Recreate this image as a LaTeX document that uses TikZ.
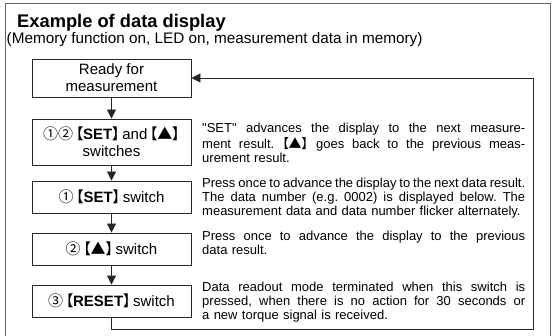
\documentclass[tikz,border=0pt]{standalone}
\usepackage{fontspec}
\setmainfont{Liberation Sans}
\newfontfamily\cjk[RawFeature=+palt]{Noto Sans CJK SC}
\usetikzlibrary{arrows.meta}
\newcommand{\lbr}{{\cjk 【}}
\newcommand{\rbr}{{\cjk 】}}
\newcommand{\tri}{{\cjk ▲}}
\newcommand{\cnum}[1]{{\cjk #1}}
\newlength{\descw}
\setlength{\descw}{323pt}
\newcommand{\jline}[1]{\hbox to\descw{\frenchspacing\spaceskip=3.6pt plus 30pt minus 1.6pt\strut#1}}
\newcommand{\lline}[1]{\hbox to\descw{\frenchspacing\strut#1\hfil}}
\tikzset{stepbox/.style={draw=black!85, line width=0.9pt, minimum width=159pt, inner sep=0pt, align=center, font=\fontsize{15}{17}\selectfont}}
\tikzset{desc/.style={anchor=north west, inner sep=0pt, text width=\descw, font=\fontsize{13}{14}\selectfont}}
\tikzset{flow/.style={draw=black!85, line width=0.9pt, -{Triangle[width=9pt,length=9pt]}}}

\begin{document}
\begin{tikzpicture}[x=1pt,y=-1pt]
\useasboundingbox (0,0) rectangle (553,336);
\clip (0,0) rectangle (553,336);
\draw[black!60, line width=1.6pt] (5.5,3.5) rectangle (550.5,350);
\node[anchor=base west, inner sep=0pt, font=\fontsize{18.3}{20}\selectfont\bfseries] (title) at (17,28) {Example of data display};
\node[anchor=base west, inner sep=0pt, font=\fontsize{15.3}{17}\selectfont] (sub) at (6.5,44) {(Memory function on, LED on, measurement data in memory)};

\node[stepbox, minimum height=38pt] (ready) at (111.5,78) {Ready for\\measurement};
\node[stepbox, minimum height=46pt] (sw12) at (111.5,142) {\cnum{①②}\,\lbr\textbf{SET}\rbr\,and\,\lbr\tri\rbr\\switches};
\node[stepbox, minimum height=32pt] (sw1) at (111.5,197) {\cnum{①}\,\lbr\textbf{SET}\rbr\,switch};
\node[stepbox, minimum height=32pt] (sw2) at (111.5,249) {\cnum{②}\,\lbr\tri\rbr\,switch};
\node[stepbox, minimum height=32pt] (sw3) at (111.5,301) {\cnum{③}\,\lbr\textbf{RESET}\rbr\,switch};

\draw[flow] (ready) -- (sw12);
\draw[flow] (sw12) -- (sw1);
\draw[flow] (sw1) -- (sw2);
\draw[flow] (sw2) -- (sw3);
\coordinate (loopbr) at (533,329);
\coordinate (looptr) at (533,78);
\draw[flow] (sw3.south) |- (loopbr) -- (looptr) -- (ready.east);

\node[desc] (d12) at (202,122.2) {
\jline{\textquotedbl SET\textquotedbl\ advances the display to the next measure-}
\jline{ment result. \lbr\tri\rbr\ goes back to the previous meas-}
\lline{urement result.}};
\node[desc] (d1) at (202,177.7) {
\jline{Press once to advance the display to the next data result.}
\jline{The data number (e.g. 0002) is displayed below. The}
\lline{measurement data and data number flicker alternately.}};
\node[desc] (d2) at (202,230.7) {
\jline{Press once to advance the display to the previous}
\lline{data result.}};
\node[desc] (d3) at (202,281.7) {
\jline{Data readout mode terminated when this switch is}
\jline{pressed, when there is no action for 30 seconds or}
\lline{a new torque signal is received.}};
\end{tikzpicture}
\end{document}
